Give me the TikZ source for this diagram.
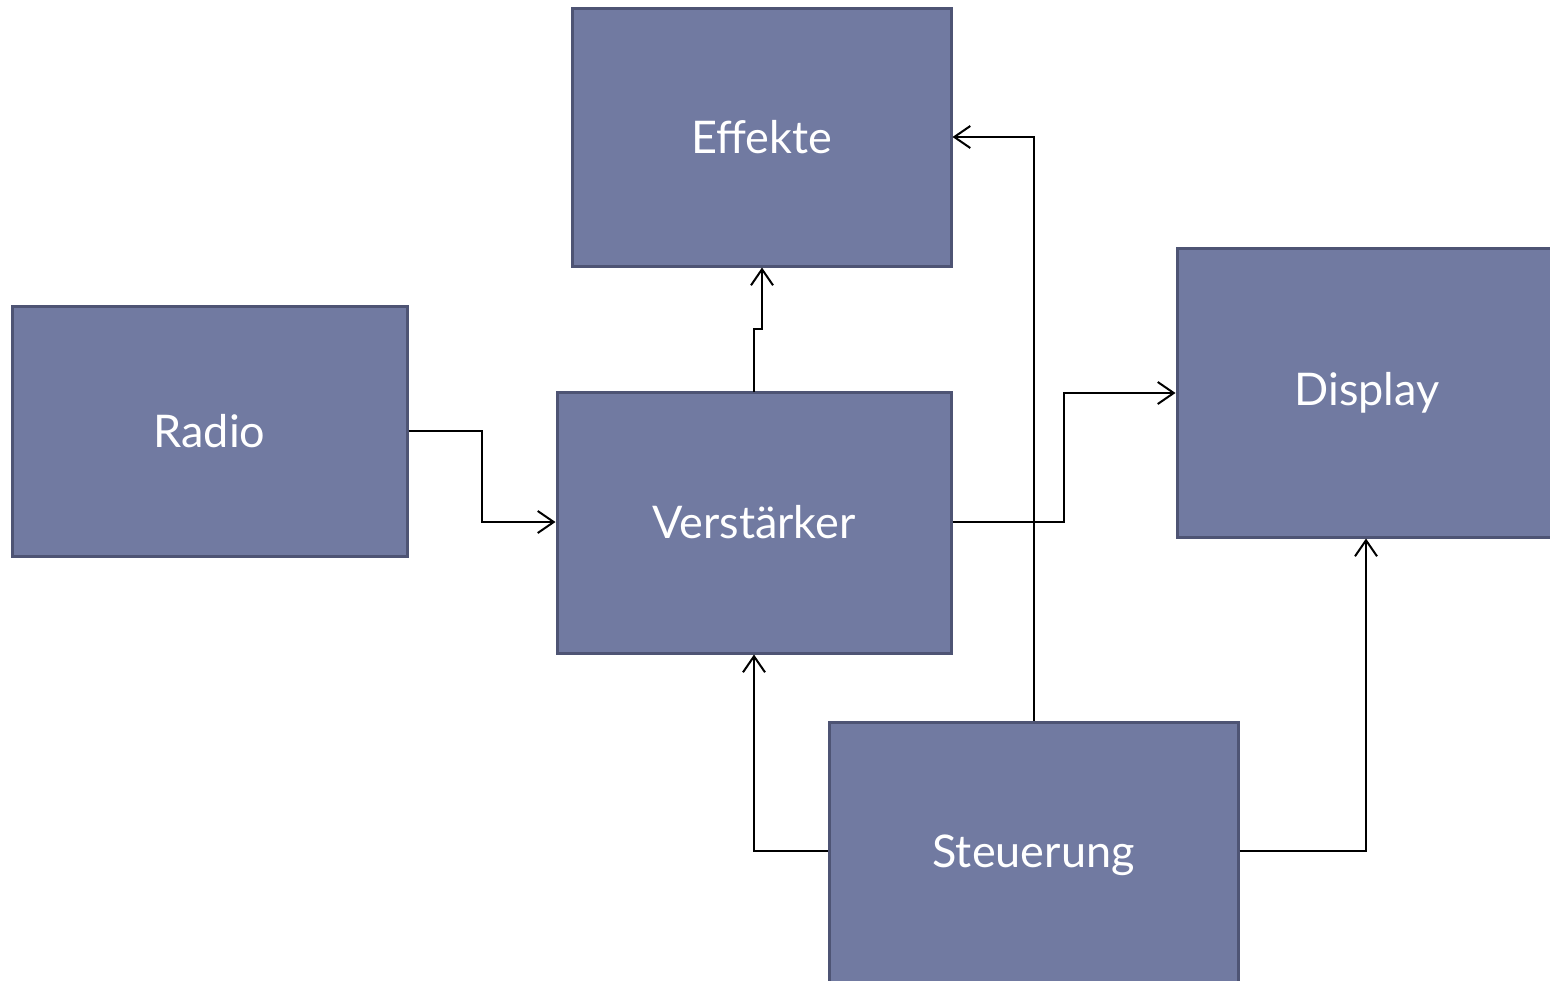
\documentclass[tikz,border=0pt]{standalone}
\usepackage{fontspec}
\setmainfont{Lato}
\usetikzlibrary{arrows.meta}
\definecolor{boxfill}{HTML}{717AA1}
\definecolor{boxline}{HTML}{4E5474}
\tikzset{
  block/.style={draw=boxline, line width=3pt, fill=boxfill, text=white, font=\fontsize{45}{54}\selectfont, inner sep=0pt},
  conn/.style={line width=2pt, -{Straight Barb[length=16pt, width=22pt, line width=2pt]}}
}
\begin{document}
\begin{tikzpicture}[x=1pt, y=-1pt]
\useasboundingbox (0,0) rectangle (1550,980);
\begin{scope}
\clip (0,0) rectangle (1550,980);
\node[block, minimum width=379pt, minimum height=258pt] (eff) at (761.5,137) {Effekte};
\node[block, minimum width=395pt, minimum height=250pt] (rad) at (209.5,431) {Radio};
\node[block, minimum width=394pt, minimum height=261pt] (ver) at (754,522.5) {Verstärker};
\node[block, minimum width=380pt, minimum height=289pt] (dis) at (1367,392.5) {Display};
\node[block, minimum width=409pt, minimum height=266pt] (ste) at (1033.5,855) {Steuerung};
\end{scope}
\coordinate (a1) at (482,431);
\coordinate (a2) at (482,522);
\draw[conn] (rad.east |- 0,431) -- (a1) -- (a2) -- (ver.west |- 0,522);
\draw[conn] (754,392) coordinate (b0) -- (754,329) -- (762,329) -- (eff.south -| 762,0);
\draw[conn] (ver.east |- 0,522) -- (1064,522) -- (1064,393) -- (dis.west |- 0,393);
\draw[conn] (ste.north -| 1034,0) -- (1034,137) -- (eff.east |- 0,137);
\draw[conn] (ste.west |- 0,851) -- (754,851) -- (ver.south -| 754,0);
\draw[conn] (ste.east |- 0,851) -- (1366,851) -- (dis.south -| 1366,0);
\end{tikzpicture}
\end{document}
